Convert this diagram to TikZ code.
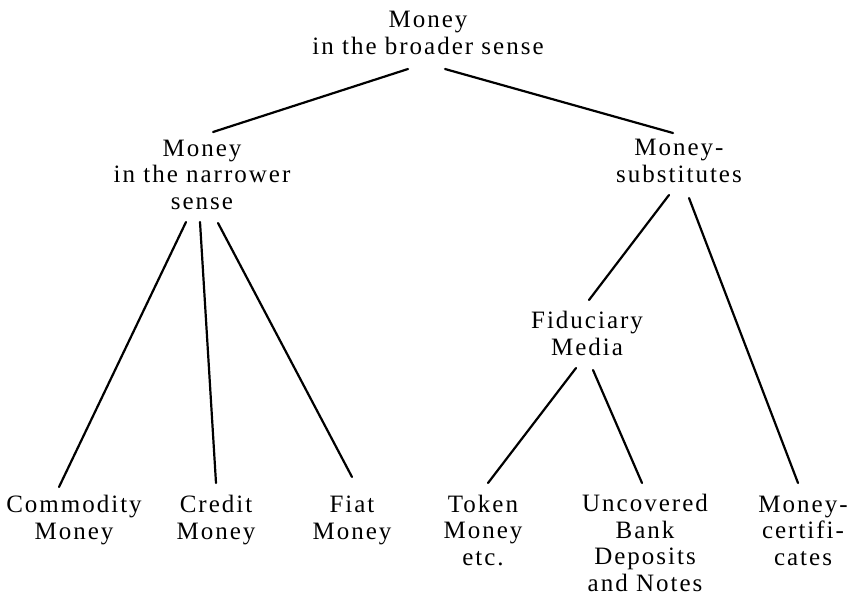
\documentclass[tikz,border=0pt]{standalone}
\usepackage{fontspec}
\setmainfont{Liberation Serif}[LetterSpace=8]
\usetikzlibrary{calc}

\begin{document}
\begin{tikzpicture}[x=0.5pt, y=-0.5pt,
        lbl/.style={anchor=base, align=center, inner sep=0pt,
            font=\fontsize{12.5}{13.25}\selectfont},
        branch/.style={line width=1.1pt, line cap=round}]
        \useasboundingbox (0,0) rectangle (854,595);
        % top (base = last line)
        \node[lbl] (broad) at (428,54) {Money\\in the broader sense};
        \node[lbl] (narrow) at (202,209) {Money\\in the narrower\\sense};
        \node[lbl] (subs) at (679,182) {Money-\\substitutes};
        \node[lbl] (fid) at (587,355) {Fiduciary\\Media};
        % leaves
        \node[lbl] (comm) at (74,539) {Commodity\\Money};
        \node[lbl] (cred) at (216,539) {Credit\\Money};
        \node[lbl] (fiat) at (352,539) {Fiat\\Money};
        \node[lbl] (token) at (483,565) {Token\\Money\\etc.};
        \node[lbl] (uncov) at (645,591) {Uncovered\\Bank\\Deposits\\and Notes};
        \node[lbl] (cert) at (803,565) {Money-\\certifi-\\cates};
        % branches
        \draw[branch] ($(broad.base)+(-20,15)$) -- ($(narrow.base)+(11,-77)$);
        \draw[branch] ($(broad.base)+(17,15)$) -- ($(subs.base)+(-6,-49)$);
        \draw[branch] ($(narrow.base)+(-16,13)$) -- ($(comm.base)+(-15,-52)$);
        \draw[branch] ($(narrow.base)+(-2,13)$) -- ($(cred.base)+(0,-56)$);
        \draw[branch] ($(narrow.base)+(16,14)$) -- ($(fiat.base)+(0,-62)$);
        \draw[branch] ($(subs.base)+(-10,13)$) -- ($(fid.base)+(2,-55)$);
        \draw[branch] ($(subs.base)+(10,16)$) -- ($(cert.base)+(-5,-82)$);
        \draw[branch] ($(fid.base)+(-11,13)$) -- ($(token.base)+(5,-82)$);
        \draw[branch] ($(fid.base)+(6,15)$) -- ($(uncov.base)+(-3,-108)$);
    \end{tikzpicture}
\end{document}
